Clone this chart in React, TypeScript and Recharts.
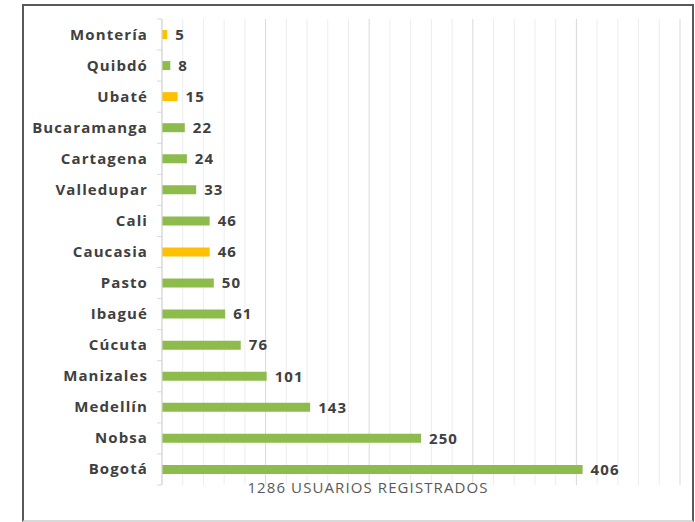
import React from "react";
import { BarChart, Bar, XAxis, YAxis, CartesianGrid, LabelList, Cell } from "recharts";

const cities = ["Montería", "Quibdó", "Ubaté", "Bucaramanga", "Cartagena", "Valledupar", "Cali", "Caucasia", "Pasto", "Ibagué", "Cúcuta", "Manizales", "Medellín", "Nobsa", "Bogotá"];
const users = [5, 8, 15, 22, 24, 33, 46, 46, 50, 61, 76, 101, 143, 250, 406];
const highlighted = ["Montería", "Ubaté", "Caucasia"];
const minorTicks = [20, 40, 60, 80, 120, 140, 160, 180, 220, 240, 260, 280, 320, 340, 360, 380, 420, 440, 460, 480];
const majorTicks = [0, 100, 200, 300, 400, 500];
const axisTitle = "1286 USUARIOS REGISTRADOS";

const data = cities.map((city, i) => ({ city, users: users[i] }));
const gridTicks = [...majorTicks, ...minorTicks].sort((a, b) => a - b);

const GREEN = "#8DBB4C";
const YELLOW = "#FFC000";
const TEXT = "#404040";
const FONT = "'Open Sans', sans-serif";

const TOP = 19;
const BOTTOM = 37;
const band = (522 - TOP - BOTTOM) / cities.length;

const NoTick = () => <g />;

const gridLine = (p: any) => {
  const v = gridTicks[p.index];
  return (
    <line
      key={`grid-${p.index}`}
      x1={p.x1}
      y1={p.y1}
      x2={p.x2}
      y2={p.y2}
      stroke={majorTicks.includes(v) ? "#d9d9d9" : "#ededed"}
    />
  );
};

const CityTick = (props: any) => {
  const { x, y, payload, index } = props;
  return (
    <g>
      <text x={x - 14} y={y} dy={5} textAnchor="end" fill={TEXT} fontSize={15} fontWeight={700} fontFamily={FONT} letterSpacing={1.1}>
        {payload.value}
      </text>
      {index === 0 && <line x1={x - 5} x2={x} y1={y - band / 2} y2={y - band / 2} stroke="#d9d9d9" />}
      <line x1={x - 5} x2={x} y1={y + band / 2} y2={y + band / 2} stroke="#d9d9d9" />
    </g>
  );
};

export default function App() {
  return (
    <div style={{ position: "absolute", left: 0, top: 0, width: 695, height: 522, background: "#fff" }}>
      <div
        style={{
          position: "absolute",
          left: 22,
          top: 4,
          width: 668,
          height: 514,
          borderTop: "2px solid #595959",
          borderLeft: "2px solid #595959",
          borderRight: "2px solid #595959",
          borderBottom: "2px solid #d9d9d9",
        }}
      />
      <div style={{ position: "absolute", left: 0, top: 0 }}>
        <BarChart
          width={695}
          height={522}
          data={data}
          layout="vertical"
          margin={{ top: TOP, right: 15, bottom: 0, left: 0 }}
          barSize={9}
        >
          <CartesianGrid horizontal={false} vertical={gridLine} />
          <XAxis
            type="number"
            domain={[0, 500]}
            ticks={gridTicks}
            interval={0}
            tick={<NoTick />}
            tickLine={false}
            axisLine={false}
            height={BOTTOM}
            label={{ value: axisTitle, position: "insideTop", dx: -53, dy: -8, fill: "#595959", fontSize: 15, fontFamily: FONT, fontWeight: 400, letterSpacing: 1.1 }}
          />
          <YAxis
            type="category"
            dataKey="city"
            width={162}
            tick={<CityTick />}
            tickLine={false}
            tickSize={0}
            tickMargin={0}
            axisLine={{ stroke: "#d9d9d9" }}
            interval={0}
          />
          <Bar dataKey="users" isAnimationActive={false}>
            {data.map((d) => (
              <Cell key={d.city} fill={highlighted.includes(d.city) ? YELLOW : GREEN} />
            ))}
            <LabelList dataKey="users" position="right" offset={8} fill={TEXT} fontSize={15} fontWeight={700} fontFamily={FONT} letterSpacing={1.1} />
          </Bar>
        </BarChart>
      </div>
    </div>
  );
}
